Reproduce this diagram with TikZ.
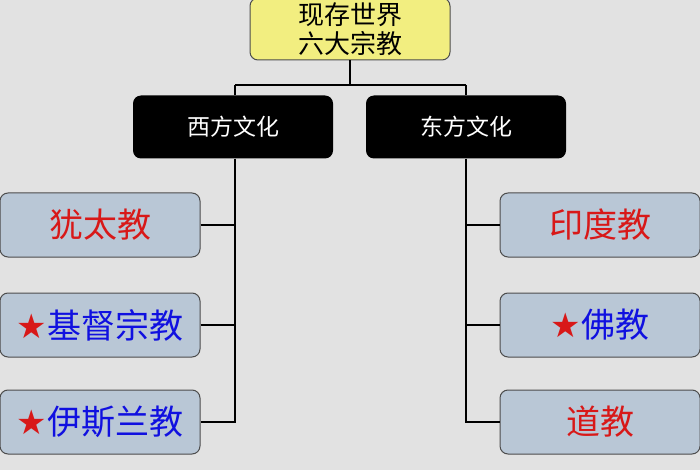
\documentclass[tikz,border=0pt]{standalone}
\usepackage{fontspec}
\newfontfamily\cjk{Noto Sans CJK SC}
\newfontfamily\djsym{DejaVu Sans}
\definecolor{bg}{HTML}{E2E2E2}
\definecolor{yel}{HTML}{F2EE80}
\definecolor{gb}{HTML}{B9C7D6}
\definecolor{rd}{HTML}{D81818}
\definecolor{bl}{HTML}{1010E0}
\begin{document}
\begin{tikzpicture}[x=1pt,y=-1pt,
  topbox/.style={draw=black!70,fill=yel,rounded corners=8pt,minimum width=200pt,minimum height=62pt,inner sep=1pt,align=center,font=\cjk\fontsize{26}{29}\selectfont,line width=1pt},
  blk/.style={fill=black,rounded corners=8pt,minimum width=200pt,minimum height=63pt,text=white,font=\cjk\fontsize{23}{26}\selectfont},
  rel/.style={draw=black!70,fill=gb,rounded corners=8pt,minimum width=200pt,minimum height=64pt,inner sep=1pt,font=\cjk\fontsize{34}{38}\selectfont,line width=1pt},
  ln/.style={draw=black,line width=2pt}]
\fill[bg] (0,0) rectangle (700,470);
\useasboundingbox (0,0) rectangle (700,470);
\node[topbox] (top) at (350,29) {现存世界\\六大宗教};
\node[blk] (w) at (233,127) {西方文化};
\node[blk] (e) at (466,127) {东方文化};
\node[rel,text=rd] (l1) at (100,225) {犹太教};
\node[rel,text=bl] (l2) at (100,325) {{\djsym\textcolor{rd}{★}}基督宗教};
\node[rel,text=bl] (l3) at (100,422) {{\djsym\textcolor{rd}{★}}伊斯兰教};
\node[rel,text=rd] (r1) at (600,225) {印度教};
\node[rel,text=bl] (r2) at (600,325) {{\djsym\textcolor{rd}{★}}佛教};
\node[rel,text=rd] (r3) at (600,422) {道教};
\coordinate (j) at (350,85);
\coordinate (wv) at (235,85);
\coordinate (ev) at (466,85);
\coordinate (wb) at (235,422);
\coordinate (eb) at (466,422);
\draw[ln] (top.south) -- (j);
\draw[ln] (wv) -- (ev);
\draw[ln] (wv) -- (wv|-w.north);
\draw[ln] (ev) -- (ev|-e.north);
\draw[ln] (wb|-w.south) -- (wb) -- (l3.east);
\draw[ln] (l1.east) -- (l1.east-|wb);
\draw[ln] (l2.east) -- (l2.east-|wb);
\draw[ln] (eb|-e.south) -- (eb) -- (r3.west);
\draw[ln] (r1.west) -- (r1.west-|eb);
\draw[ln] (r2.west) -- (r2.west-|eb);
\end{tikzpicture}
\end{document}
